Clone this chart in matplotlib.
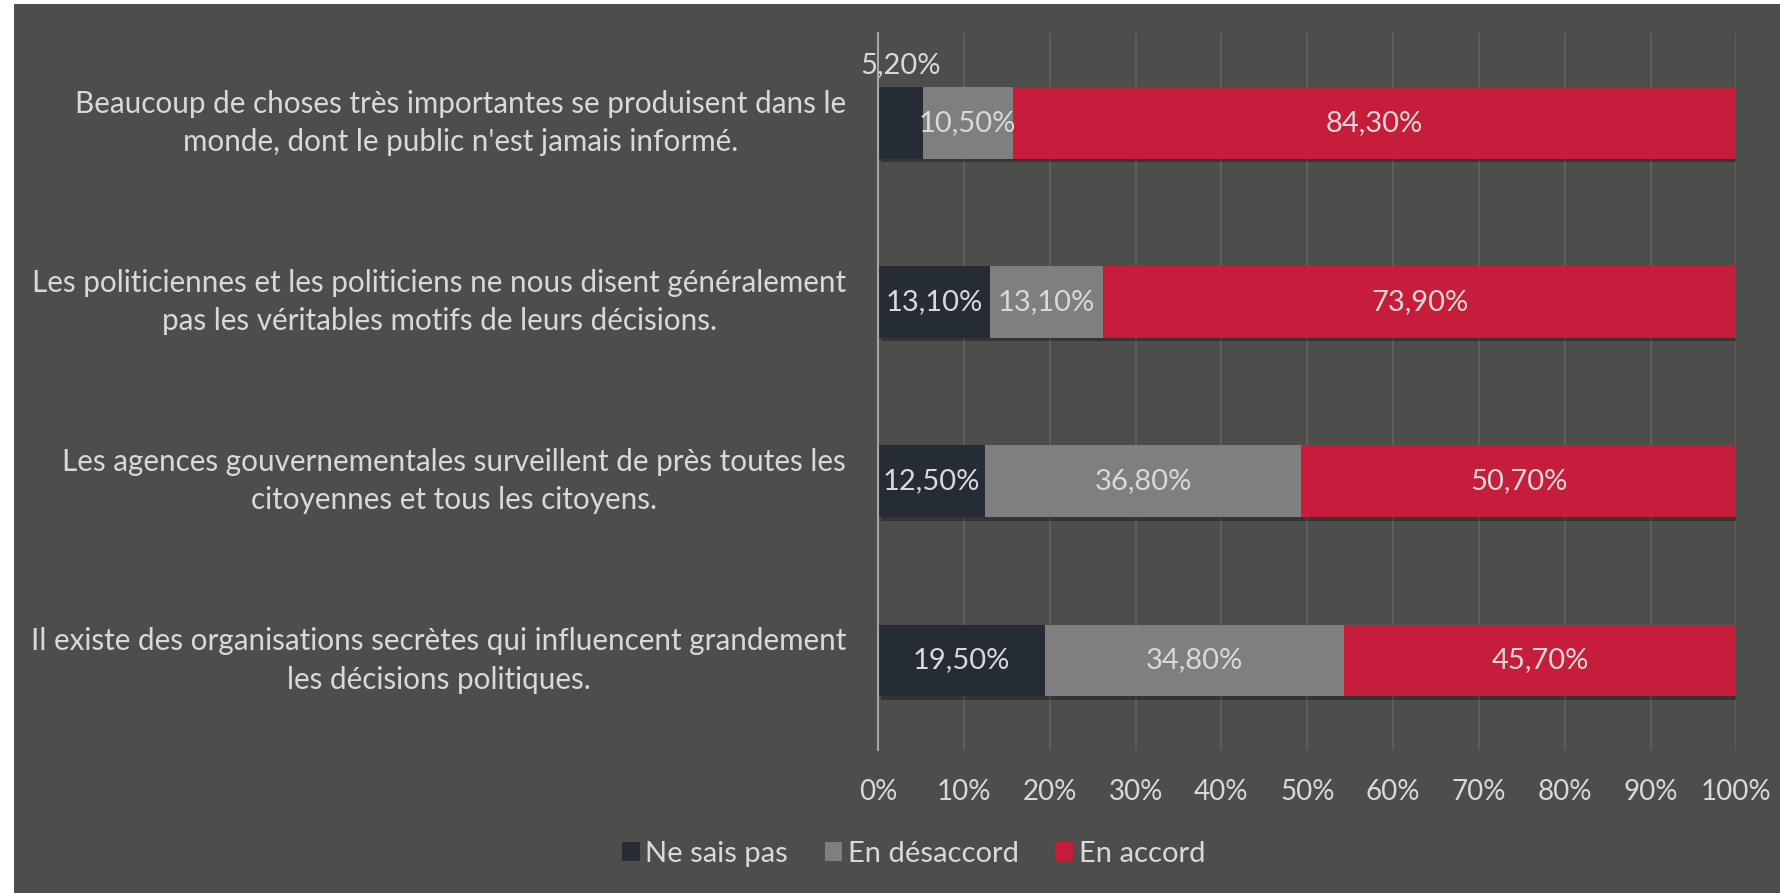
import numpy as np
import matplotlib
matplotlib.use("Agg")
from matplotlib import pyplot as plt
from matplotlib import patheffects as pe
from matplotlib.patches import Rectangle

plt.rcParams['font.family'] = ['Lato', 'DejaVu Sans']

categories = [
    "Beaucoup de choses très importantes se produisent dans le\nmonde, dont le public n'est jamais informé.",
    "Les politiciennes et les politiciens ne nous disent généralement\npas les véritables motifs de leurs décisions.",
    "Les agences gouvernementales surveillent de près toutes les\ncitoyennes et tous les citoyens.",
    "Il existe des organisations secrètes qui influencent grandement\nles décisions politiques.",
]
ne_sais_pas = [5.2, 13.1, 12.5, 19.5]
desaccord = [10.5, 13.1, 36.8, 34.8]
accord = [84.3, 73.9, 50.7, 45.7]
series_names = ["Ne sais pas", "En désaccord", "En accord"]
colors = ["#252c35", "#7f7f7f", "#c51d3a"]

bg = "#4d4d4b"
txt = "#d9d9d9"

fig = plt.figure(figsize=(17.81, 8.93), dpi=100, facecolor="white")
fig.patches.append(Rectangle((14 / 1781, 0), 1, 1 - 4 / 893, transform=fig.transFigure,
                             facecolor=bg, edgecolor="none", zorder=-10))
ax = fig.add_axes([0.493, 0.160, 0.482, 0.803])
ax.set_facecolor(bg)

y = np.arange(len(categories))
left = np.zeros(len(categories))
shadow = [pe.SimplePatchShadow(offset=(2, -2.5), shadow_rgbFace="black", alpha=0.3), pe.Normal()]
for vals, name, col in zip([ne_sais_pas, desaccord, accord], series_names, colors):
    vals = np.array(vals)
    bars = ax.barh(y, vals, left=left, height=0.4, color=col, label=name, zorder=3)
    for b in bars:
        b.set_path_effects(shadow)
    for yi, l, v in zip(y, left, vals):
        lab = f"{v:.2f}%".replace(".", ",")
        if v < 7:
            ax.text(l + v / 2, yi - 0.32, lab, ha="center", va="center", color=txt, fontsize=21, zorder=5)
        else:
            ax.text(l + v / 2, yi, lab, ha="center", va="center", color=txt, fontsize=21, zorder=5)
    left = left + vals

ax.set_xlim(0, 100)
ax.set_ylim(len(categories) - 0.5, -0.5)
ax.set_xticks(np.arange(0, 101, 10))
ax.set_xticklabels([f"{t}%" for t in range(0, 101, 10)])
ax.set_yticks(y)
ax.set_yticklabels(categories, multialignment="center", linespacing=1.45)
for lbl in ax.get_yticklabels():
    lbl.set_va("center")
ax.tick_params(axis="x", length=0, pad=21, labelsize=20, labelcolor=txt)
ax.tick_params(axis="y", length=0, pad=23, labelsize=21.3, labelcolor=txt)
ax.grid(axis="x", color="#626260", linewidth=1.2, zorder=0)
for s in ["top", "right", "bottom"]:
    ax.spines[s].set_visible(False)
ax.spines["left"].set_color("#a6a6a6")
ax.spines["left"].set_linewidth(1.5)
ax.spines["left"].set_zorder(4)

leg = fig.legend(loc="center", bbox_to_anchor=(0.513, 0.044), ncol=3, frameon=False,
                 fontsize=21, handlelength=0.6, handleheight=0.6, handletextpad=0.2,
                 columnspacing=1.25)
for t in leg.get_texts():
    t.set_color(txt)
for h in leg.legend_handles:
    h.set_path_effects([])

fig.savefig("out.png", dpi=100, facecolor=fig.get_facecolor())
